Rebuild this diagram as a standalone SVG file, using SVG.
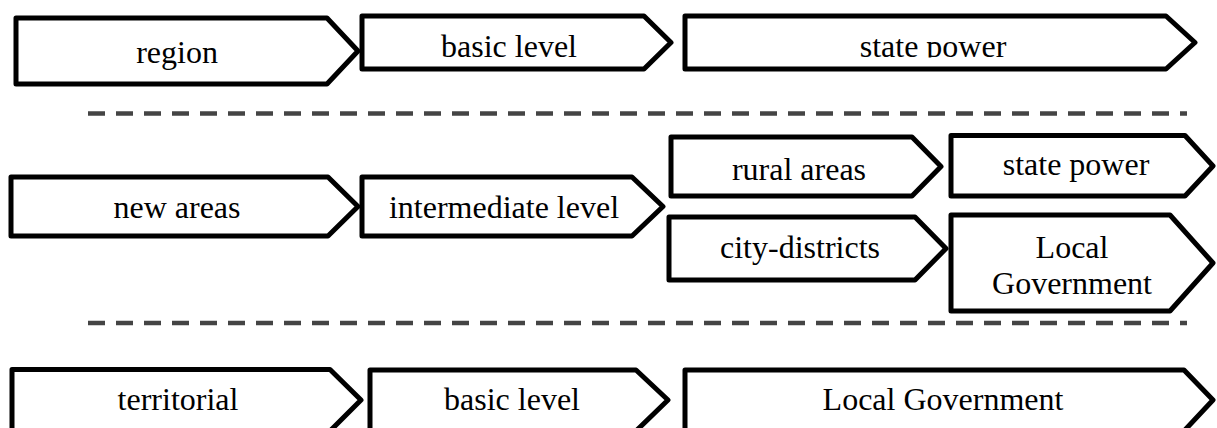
<svg xmlns="http://www.w3.org/2000/svg" width="1217" height="428" viewBox="0 0 1217 428">
<style>
.box{fill:#fff;stroke:#000;stroke-width:5;stroke-linejoin:round}
.lbl{font-family:"Liberation Serif","Times New Roman",serif;font-size:32px;fill:#000;text-anchor:middle}
.sep{stroke:#444;stroke-width:4.5;stroke-dasharray:17 11;fill:none}
</style>
<defs>
<clipPath id="clipTop"><rect x="0" y="0" width="1217" height="57.5"/></clipPath>
</defs>
<rect width="1217" height="428" fill="#fff"/>
<g id="separators">
<line class="sep" x1="88" y1="113.5" x2="1187" y2="113.5"/>
<line class="sep" x1="88" y1="323" x2="1187" y2="323"/>
</g>
<g id="connectors"></g>
<g id="n-region">
<path class="box" d="M16,18 L327,18 L358,51 L327,84 L16,84 Z"/>
<text class="lbl" x="177" y="63">region</text>
</g>
<g id="n-basic1">
<path class="box" d="M362,16 L644,16 L671,42.5 L644,69 L362,69 Z"/>
<text class="lbl" x="509" y="57">basic level</text>
</g>
<g id="n-state1">
<path class="box" d="M685,16 L1166,16 L1195,42.5 L1166,69 L685,69 Z"/>
<text class="lbl" x="933" y="57" clip-path="url(#clipTop)">state power</text>
</g>
<g id="n-newareas">
<path class="box" d="M11,177 L328,177 L358,206.5 L328,236 L11,236 Z"/>
<text class="lbl" x="177" y="218">new areas</text>
</g>
<g id="n-intermediate">
<path class="box" d="M362,177 L632,177 L663,206.5 L632,236 L362,236 Z"/>
<text class="lbl" x="504" y="218">intermediate level</text>
</g>
<g id="n-rural">
<path class="box" d="M671,137 L912,137 L941,166.5 L912,196 L671,196 Z"/>
<text class="lbl" x="799" y="180">rural areas</text>
</g>
<g id="n-city">
<path class="box" d="M669,217 L915,217 L946,248.5 L915,280 L669,280 Z"/>
<text class="lbl" x="800" y="258">city-districts</text>
</g>
<g id="n-state2">
<path class="box" d="M951,135.5 L1185,135.5 L1213,166 L1185,196 L951,196 Z"/>
<text class="lbl" x="1076" y="175">state power</text>
</g>
<g id="n-localgov2">
<path class="box" d="M951,215 L1170,215 L1213,263 L1170,311 L951,311 Z"/>
<text class="lbl" x="1072" y="258">Local</text>
<text class="lbl" x="1072" y="294">Government</text>
</g>
<g id="n-territorial">
<path class="box" d="M12,369.5 L330,369.5 L361,400 L330,431 L12,431 Z"/>
<text class="lbl" x="178" y="410">territorial</text>
</g>
<g id="n-basic3">
<path class="box" d="M370,370 L636,370 L668,400 L636,431 L370,431 Z"/>
<text class="lbl" x="512" y="410">basic level</text>
</g>
<g id="n-localgov3">
<path class="box" d="M685,370 L1184,370 L1213,400 L1184,431 L685,431 Z"/>
<text class="lbl" x="943" y="410">Local Government</text>
</g>
</svg>
